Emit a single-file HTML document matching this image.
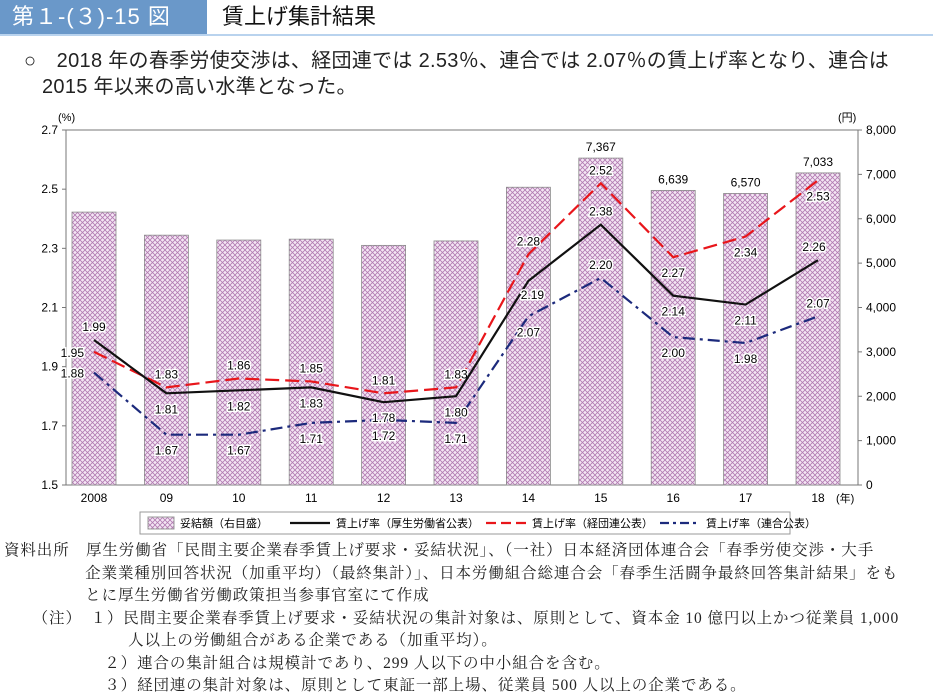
<!DOCTYPE html>
<html><head><meta charset="utf-8"><style>
body{margin:0;width:933px;height:700px;background:#fff;font-family:"Liberation Sans","Noto Sans CJK JP",sans-serif;position:relative;overflow:hidden;color:#222}
.hd{position:absolute;left:0;top:0;width:933px;height:34px;border-bottom:2px solid #b9d3ee}
.hd .num{position:absolute;left:0;top:0;width:207px;height:34px;background:#6a98c9;color:#fff;font-size:22px;line-height:34px;padding-left:12px;box-sizing:border-box;letter-spacing:1px}
.hd .tt{position:absolute;left:222px;top:0;font-size:22px;line-height:34px;color:#111}
.lead{position:absolute;left:24px;top:48px;font-size:20px;line-height:26px;color:#222;white-space:nowrap;letter-spacing:0.3px}
.lead .l2{padding-left:18px}
.notes{position:absolute;left:4px;top:540px;font-family:"Liberation Serif","Noto Serif CJK SC",serif;font-size:15.5px;line-height:22.5px;color:#222;white-space:nowrap;letter-spacing:0.9px}
</style></head><body>
<div class="hd">
<div class="num">第１-(３)-15 図</div>
<div class="tt">賃上げ集計結果</div></div>
<div class="lead">○　2018 年の春季労使交渉は、経団連では 2.53％、連合では 2.07％の賃上げ率となり、連合は<br><span class="l2">2015 年以来の高い水準となった。</span></div>
<svg id="ch" width="933" height="540" style="position:absolute;left:0;top:0">
<defs><pattern id="hatch" width="5" height="5" patternUnits="userSpaceOnUse">
<rect width="5" height="5" fill="#f4e6f4"/><path d="M0 0L5 5M5 0L0 5" stroke="#b27bb2" stroke-width="0.8"/></pattern></defs>
</svg>
<div class="notes">
資料出所　厚生労働省「民間主要企業春季賃上げ要求・妥結状況」、（一社）日本経済団体連合会「春季労使交渉・大手<br>
&nbsp;&nbsp;&nbsp;&nbsp;&nbsp;&nbsp;&nbsp;&nbsp;&nbsp;&nbsp;&nbsp;&nbsp;&nbsp;&nbsp;&nbsp;&nbsp;&nbsp;企業業種別回答状況（加重平均）（最終集計）」、日本労働組合総連合会「春季生活闘争最終回答集計結果」をも<br>
&nbsp;&nbsp;&nbsp;&nbsp;&nbsp;&nbsp;&nbsp;&nbsp;&nbsp;&nbsp;&nbsp;&nbsp;&nbsp;&nbsp;&nbsp;&nbsp;&nbsp;とに厚生労働省労働政策担当参事官室にて作成<br>
&nbsp;&nbsp;&nbsp;&nbsp;&nbsp;&nbsp;（注）　１）民間主要企業春季賃上げ要求・妥結状況の集計対象は、原則として、資本金 10 億円以上かつ従業員 1,000<br>
&nbsp;&nbsp;&nbsp;&nbsp;&nbsp;&nbsp;&nbsp;&nbsp;&nbsp;&nbsp;&nbsp;&nbsp;&nbsp;&nbsp;&nbsp;&nbsp;&nbsp;&nbsp;&nbsp;&nbsp;&nbsp;&nbsp;&nbsp;&nbsp;&nbsp;&nbsp;人以上の労働組合がある企業である（加重平均）。<br>
&nbsp;&nbsp;&nbsp;&nbsp;&nbsp;&nbsp;&nbsp;&nbsp;&nbsp;&nbsp;&nbsp;&nbsp;&nbsp;&nbsp;&nbsp;&nbsp;&nbsp;&nbsp;&nbsp;&nbsp;&nbsp;２）連合の集計組合は規模計であり、299 人以下の中小組合を含む。<br>
&nbsp;&nbsp;&nbsp;&nbsp;&nbsp;&nbsp;&nbsp;&nbsp;&nbsp;&nbsp;&nbsp;&nbsp;&nbsp;&nbsp;&nbsp;&nbsp;&nbsp;&nbsp;&nbsp;&nbsp;&nbsp;３）経団連の集計対象は、原則として東証一部上場、従業員 500 人以上の企業である。</div>
<script>
const categories=["2008","09","10","11","12","13","14","15","16","17","18"];
const amounts=[6150,5630,5520,5540,5400,5500,6710,7367,6639,6570,7033];
const amountLabels=["","","","","","","","7,367","6,639","6,570","7,033"];
const mhlw=[1.99,1.81,1.82,1.83,1.78,1.80,2.19,2.38,2.14,2.11,2.26];
const keidanren=[1.95,1.83,1.86,1.85,1.81,1.83,2.28,2.52,2.27,2.34,2.53];
const rengo=[1.88,1.67,1.67,1.71,1.72,1.71,2.07,2.20,2.00,1.98,2.07];
const leftTicks=[1.5,1.7,1.9,2.1,2.3,2.5,2.7];
const rightTicks=[0,1000,2000,3000,4000,5000,6000,7000,8000];
const mhlwPlace=["a","b","b","b","b","b","r","a","b","b","al"];
const keiPlace=["l","a","a","a","a","a","a","a","b","b","b"];
const renPlace=["l","b","b","b","b","b","b","a","b","b","a"];

const svg=document.getElementById('ch');const NS="http://www.w3.org/2000/svg";
const X0=66,X1=858,Y0=485,Y1=130;
const xs=i=>94+i*72.4;
const yL=v=>Y0-(v-1.5)/1.2*(Y0-Y1);
const yR=v=>Y0-v/8000*(Y0-Y1);
function el(t,a,txt){const e=document.createElementNS(NS,t);for(const k in a)e.setAttribute(k,a[k]);if(txt!=null)e.textContent=txt;svg.appendChild(e);return e;}
const F='"Liberation Sans","Noto Sans CJK JP",sans-serif';
let e=el('rect',{x:X0,y:Y1,width:X1-X0,height:Y0-Y1,fill:'none',stroke:'#777','stroke-width':1});


leftTicks.forEach(v=>{const y=yL(v);
 e=el('line',{x1:X0-4,x2:X0,y1:y,y2:y,stroke:'#777'});
 e=el('text',{x:X0-8,y:y+4,'text-anchor':'end','font-size':12,'font-family':F},v.toFixed(1));
 
 });
rightTicks.forEach(v=>{const y=yR(v);
 el('line',{x1:X1,x2:X1+4,y1:y,y2:y,stroke:'#777'});
 e=el('text',{x:X1+8,y:y+4,'font-size':12,'font-family':F},v.toLocaleString('en-US'));
 
 });
e=el('text',{x:58,y:121,'font-size':11,'font-family':F},'(%)');


e=el('text',{x:838,y:121,'font-size':11,'font-family':F},'(円)');


categories.forEach((c,i)=>{
 e=el('rect',{x:xs(i)-22,y:yR(amounts[i]),width:44,height:Y0-yR(amounts[i]),fill:'url(#hatch)',stroke:'#8a8a8a','stroke-width':0.8});
 
 
 if(amountLabels[i]){e=el('text',{x:xs(i),y:yR(amounts[i])-7,'text-anchor':'middle','font-size':12,'font-family':F},amountLabels[i]);
 
 }
 e=el('text',{x:xs(i),y:Y0+17,'text-anchor':'middle','font-size':12,'font-family':F},c);
 
 
});
e=el('text',{x:836,y:Y0+17,'font-size':11,'font-family':F},'(年)');


function series(vals,place,color,dash,name){
 const pts=vals.map((v,i)=>xs(i)+','+yL(v)).join(' ');
 e=el('polyline',{points:pts,fill:'none',stroke:color,'stroke-width':2.2,'stroke-dasharray':dash});
 
 
 vals.forEach((v,i)=>{let x=xs(i),y=yL(v),a='middle';const p=place[i];
  if(p==='a')y-=9;else if(p==='b')y+=20;else if(p==='l'){x-=10;y+=5;a='end';}
  else if(p==='r'){x+=4;y+=18;}else if(p==='al'){x-=4;y-=9;}
  const t=el('text',{x:x,y:y,'text-anchor':a,'font-size':12,'font-family':F,stroke:'#fff','stroke-width':3,'paint-order':'stroke'},v.toFixed(2));
  
  });
}
series(keidanren,keiPlace,'#e8161b','14 6','keidanren');
series(rengo,renPlace,'#1c2a7c','12 5 3 5','rengo');
series(mhlw,mhlwPlace,'#111','','mhlw');
const L=el('rect',{x:140,y:512,width:650,height:22,fill:'#fff',stroke:'#999'});


e=el('rect',{x:148,y:517,width:26,height:12,fill:'url(#hatch)',stroke:'#999'});


const legs=[[180,'妥結額（右目盛）',null,''],[336,'賃上げ率（厚生労働省公表）','#111',''],[532,'賃上げ率（経団連公表）','#e8161b','10 5'],[706,'賃上げ率（連合公表）','#1c2a7c','9 4 3 4']];
legs.forEach(l=>{let tx=l[0];
 if(l[2]){e=el('line',{x1:l[0]-46,x2:l[0]-6,y1:523,y2:523,stroke:l[2],'stroke-width':2.2,'stroke-dasharray':l[3]});
 
 }
 e=el('text',{x:tx,y:527,'font-size':11,'font-family':F},l[1]);
 
 });
</script>
</body></html>
